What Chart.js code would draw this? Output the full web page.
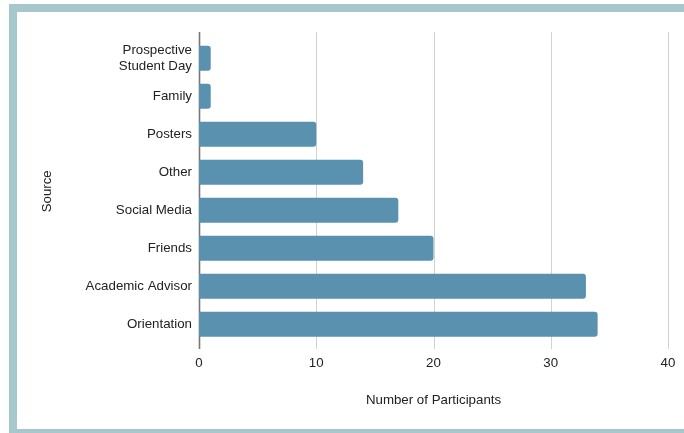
<!DOCTYPE html>
<html>
<head>
<meta charset="utf-8">
<script src="https://cdn.jsdelivr.net/npm/chart.js@4/dist/chart.umd.min.js"></script>
<style>
  html, body { margin: 0; padding: 0; background: #fff; overflow: hidden; }
  #wrap { position: relative; width: 684px; height: 433px; }
  #frame {
    position: absolute; left: 9px; top: 4px;
    width: 720px; height: 417px;
    border: 8px solid #a6c7cb;
    pointer-events: none;
  }
  canvas { position: absolute; left: 0; top: 0; }
</style>
</head>
<body>
<div id="wrap">
  <canvas id="chart" width="684" height="433"></canvas>
  <div id="frame"></div>
</div>
<script>
// ── data ─────────────────────────────────────────────
const sources = [
    ['Prospective', 'Student Day'],
    'Family',
    'Posters',
    'Other',
    'Social Media',
    'Friends',
    'Academic Advisor',
    'Orientation'
];
const participants = [1, 1, 10, 14, 17, 20, 33, 34];
const xTicks = [0, 10, 20, 30, 40];

const FONT = { family: '"Liberation Sans", Arial, sans-serif', size: 13.3 };

// grid lines + axis line, drawn taller than the bar bands
const gridPlugin = {
    id: 'tallGrid',
    beforeDatasetsDraw(chart) {
        const { ctx, scales: { x } } = chart;
        const top = 32, bottom = 349;
        ctx.save();
        xTicks.forEach(v => {
            const px = Math.round(x.getPixelForValue(v)) + 0.5;
            ctx.beginPath();
            ctx.strokeStyle = v === 0 ? '#777' : '#d2d2d2';
            ctx.lineWidth = v === 0 ? 1.6 : 1;
            ctx.moveTo(px, top);
            ctx.lineTo(px, bottom);
            ctx.stroke();
        });
        ctx.restore();
    }
};

new Chart(document.getElementById('chart'), {
    type: 'bar',
    data: {
        labels: sources,
        datasets: [{
            data: participants,
            backgroundColor: '#5a91ae',
            borderRadius: 3,
            barPercentage: 0.82,
            categoryPercentage: 0.8
        }]
    },
    options: {
        indexAxis: 'y',
        responsive: false,
        animation: false,
        layout: { padding: { top: 39.3, right: 16, bottom: 0, left: 0 } },
        plugins: { legend: { display: false }, tooltip: { enabled: false } },
        scales: {
            x: {
                min: 0,
                max: 40,
                afterBuildTicks: s => { s.ticks = xTicks.map(v => ({ value: v })); },
                afterFit: s => {
                    s.height = 433 - 343.3;
                    s.paddingLeft = 0;
                    s.paddingRight = 0;
                },
                grid: { display: false, drawTicks: false, tickLength: 0 },
                border: { display: false },
                ticks: { color: '#222', font: FONT, padding: 12, maxRotation: 0 },
                title: {
                    display: true,
                    text: 'Number of Participants',
                    color: '#222',
                    font: FONT,
                    padding: { top: 25, bottom: 25 }
                }
            },
            y: {
                afterFit: s => { s.width = 199; },
                grid: { display: false, drawTicks: false, tickLength: 0 },
                border: { display: false },
                ticks: { color: '#222', font: FONT, padding: 7 },
                title: {
                    display: true,
                    text: 'Source',
                    color: '#222',
                    font: FONT,
                    padding: { top: 39, bottom: 39 }
                }
            }
        }
    },
    plugins: [gridPlugin]
});
</script>
</body>
</html>
